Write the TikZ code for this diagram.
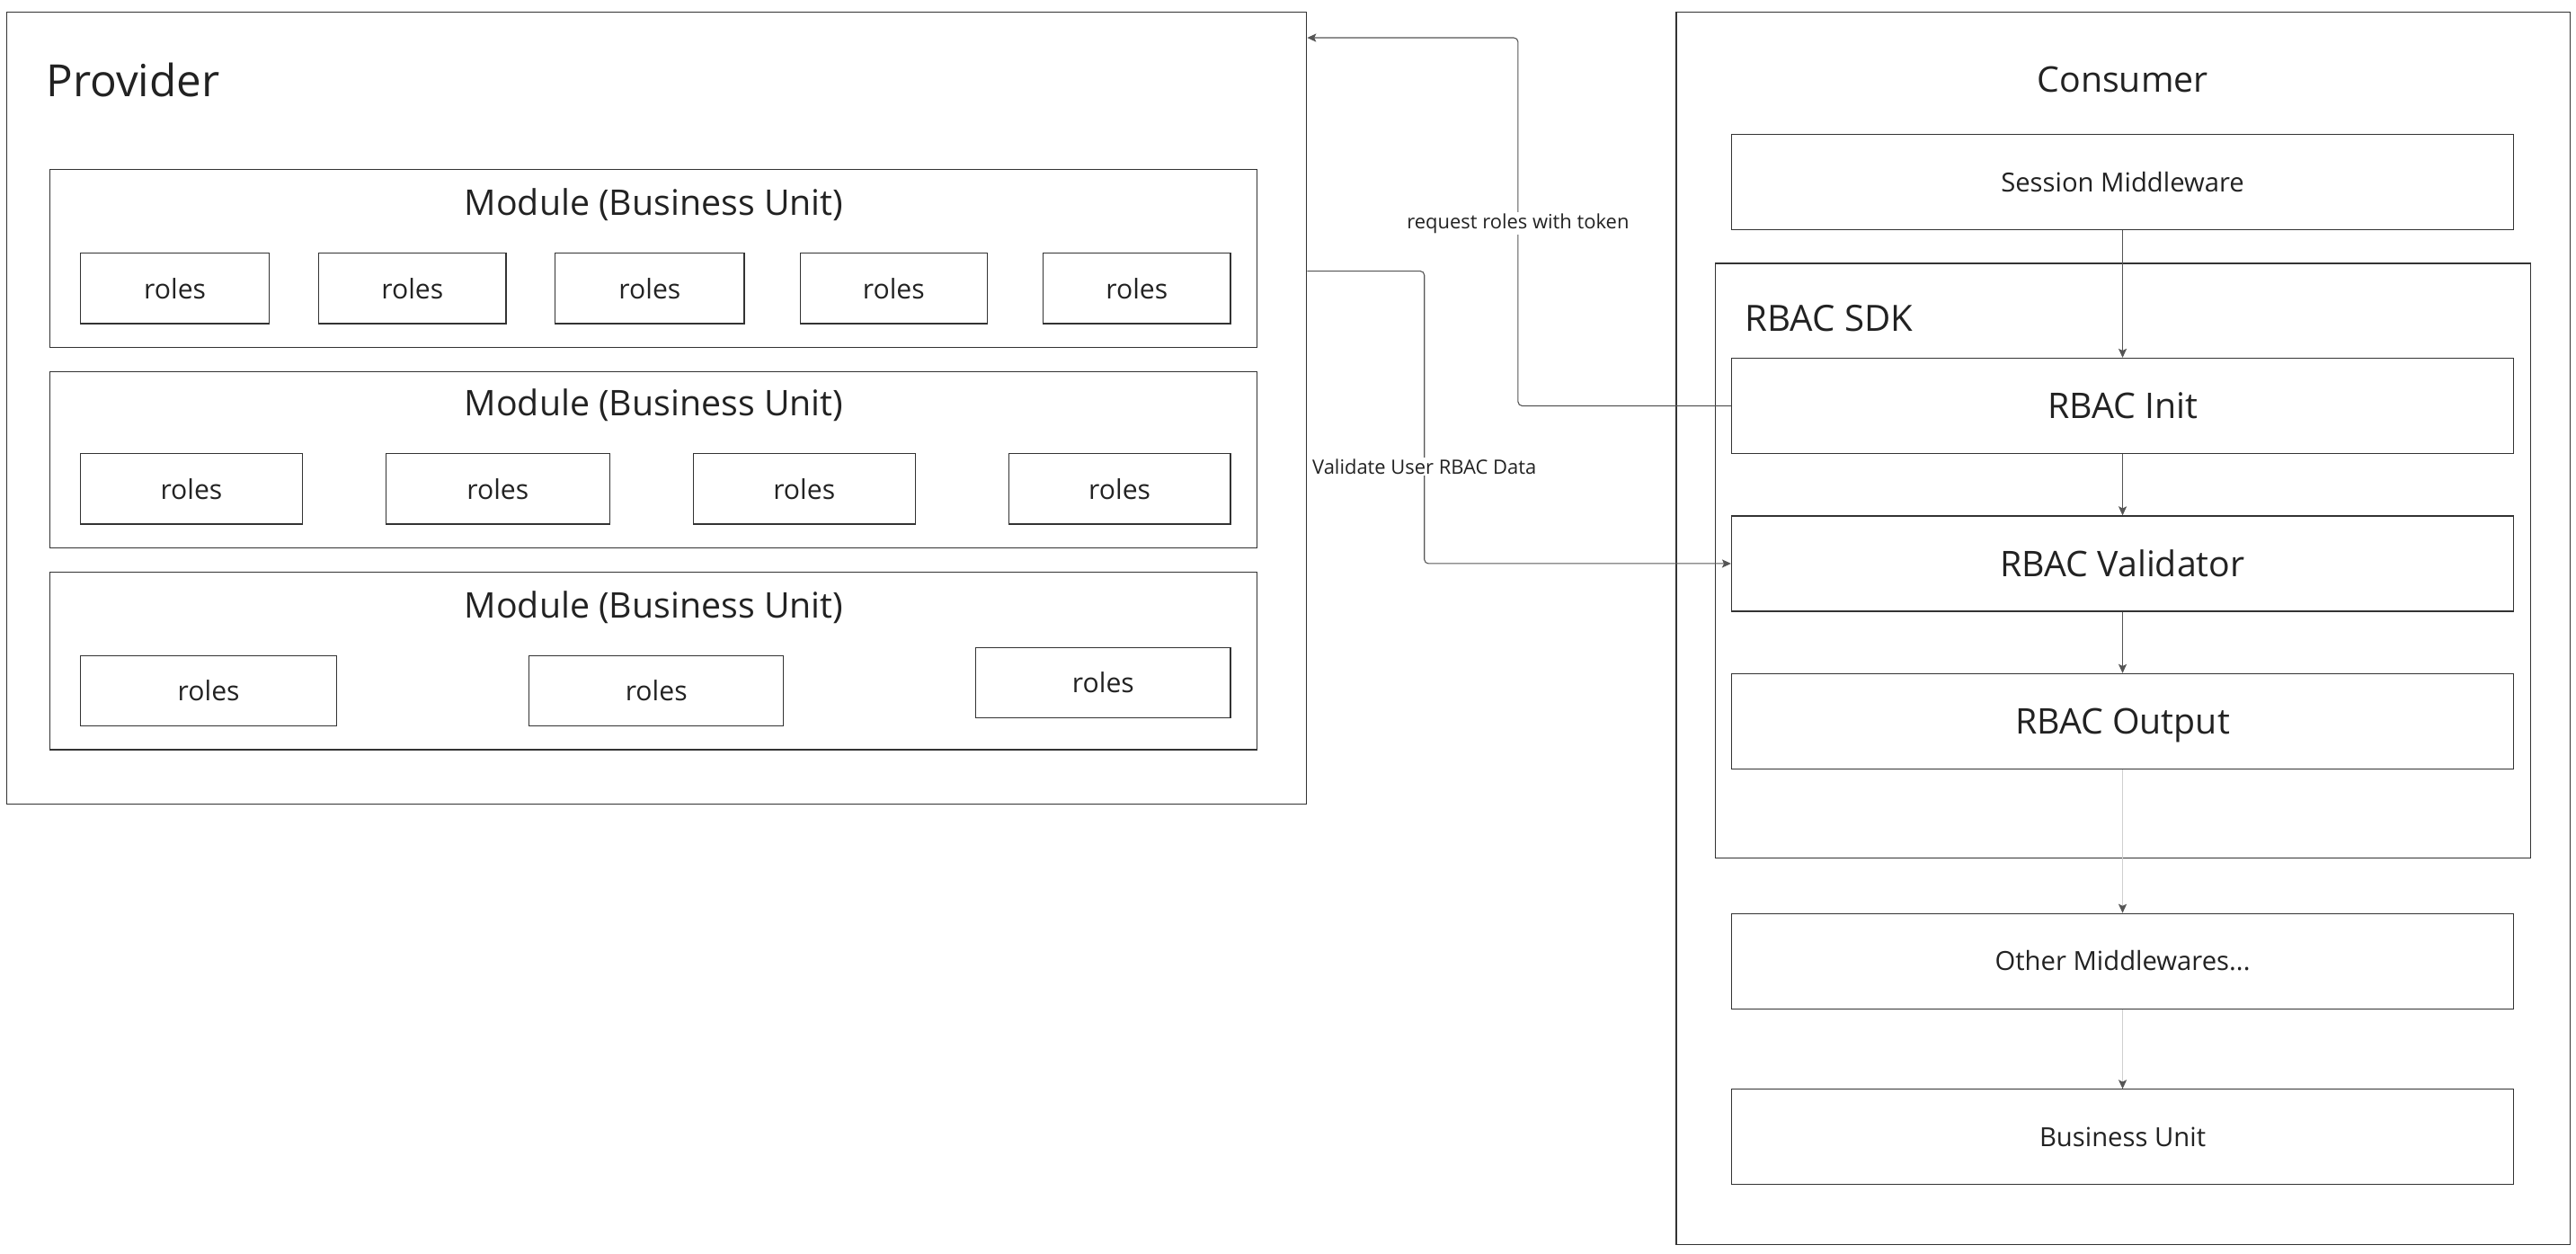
\documentclass[tikz,border=0pt]{standalone}
\usepackage{fontspec}
\setmainfont{Open Sans}
\usetikzlibrary{arrows.meta}
\definecolor{ink}{HTML}{222222}
\definecolor{edge}{HTML}{333333}
\definecolor{wire}{HTML}{555555}
\definecolor{faint}{HTML}{CFCFCF}
\newcommand{\fs}[1]{\fontsize{#1}{#1}\selectfont}
\begin{document}
\begin{tikzpicture}[x=1pt,y=-1pt,
  frame/.style={draw=edge, line width=0.65pt, rectangle, inner sep=0pt},
  holder/.style={frame, anchor=north west},
  rolebox/.style={frame, minimum height=43, text=ink, font=\fs{16.5}},
  layer/.style={frame, minimum width=476, minimum height=58, text=ink, text depth=0},
  biglayer/.style={layer, font=\fs{21.5}, text height=15.4},
  smalllayer/.style={layer, font=\fs{16}, text height=11.4},
  title/.style={text=ink, inner sep=0pt},
  tip/.style={-{Stealth[length=5.5,width=5,inset=1.2]}},
  conn/.style={draw=wire, line width=0.6pt, tip, rounded corners=2.5},
  flow/.style={draw=wire, line width=0.6pt, tip},
  fadeflow/.style={draw=faint, line width=0.6pt, -{Stealth[length=5.5,width=5,inset=1.2,color=wire]}},
  tag/.style={fill=white, text=ink, font=\fs{12}, inner sep=1pt}
]
\useasboundingbox (0,0) rectangle (1568,763);

% ---------- Provider side ----------
\node[holder, minimum width=791, minimum height=482] (provider) at (4,7) {};
\node[title, anchor=base west, font=\fs{27}] (provtitle) at (28,59) {Provider};

% module containers
\node[holder, minimum width=735, minimum height=108] (mod1) at (30,103) {};
\node[holder, minimum width=735, minimum height=107] (mod2) at (30,226) {};
\node[holder, minimum width=735, minimum height=108] (mod3) at (30,348) {};
\node[title, font=\fs{21.5}] (mod1t) at (398,124.5) {Module (Business Unit)};
\node[title, font=\fs{21.5}] (mod2t) at (398,246.5) {Module (Business Unit)};
\node[title, font=\fs{21.5}] (mod3t) at (398,369.5) {Module (Business Unit)};

% roles of the first module
\node[rolebox, minimum width=115] (r11) at (106.5,175.5) {roles};
\node[rolebox, minimum width=114] (r12) at (251,175.5) {roles};
\node[rolebox, minimum width=115] (r13) at (395.5,175.5) {roles};
\node[rolebox, minimum width=114] (r14) at (544,175.5) {roles};
\node[rolebox, minimum width=114] (r15) at (692,175.5) {roles};

% roles of the second module
\node[rolebox, minimum width=135] (r21) at (116.5,297.5) {roles};
\node[rolebox, minimum width=136] (r22) at (303,297.5) {roles};
\node[rolebox, minimum width=135] (r23) at (489.5,297.5) {roles};
\node[rolebox, minimum width=135] (r24) at (681.5,297.5) {roles};

% roles of the third module
\node[rolebox, minimum width=156] (r31) at (127,420.5) {roles};
\node[rolebox, minimum width=155] (r32) at (399.5,420.5) {roles};
\node[rolebox, minimum width=155] (r33) at (671.5,415.5) {roles};

% ---------- Consumer side ----------
\node[holder, minimum width=544, minimum height=750] (consumer) at (1020,7) {};
\node[title, font=\fs{21.5}] (constitle) at (1292,48.5) {Consumer};

\node[smalllayer] (session) at (1292,111) {Session Middleware};

\node[holder, minimum width=496, minimum height=362] (sdk) at (1044,160) {};
\node[title, anchor=west, font=\fs{22}] (sdktitle) at (1062,194) {RBAC SDK};

\node[biglayer] (init) at (1292,247) {RBAC Init};
\node[biglayer] (validator) at (1292,343) {RBAC Validator};
\node[biglayer] (output) at (1292,439) {RBAC Output};
\node[smalllayer] (others) at (1292,585) {Other Middlewares...};
\node[smalllayer] (business) at (1292,692) {Business Unit};

% ---------- Flow through the consumer ----------
\draw[flow] (session.south) -- (init.north);
\draw[flow] (init.south) -- (validator.north);
\draw[flow] (validator.south) -- (output.north);
\draw[fadeflow] (output.south) -- (others.north);
\draw[fadeflow] (others.south) -- (business.north);

% ---------- Calls between consumer and provider ----------
\coordinate (tokbend) at (924,23);
\coordinate (valbend) at (867,165);
\draw[conn] (init.west) -| (tokbend) -- (provider.east |- tokbend);
\draw[conn] (provider.east |- valbend) -- (valbend) |- (validator.west);
\node[tag] (toklabel) at (924,136) {request roles with token};
\node[tag] (vallabel) at (867,284) {Validate User RBAC Data};
\end{tikzpicture}
\end{document}
